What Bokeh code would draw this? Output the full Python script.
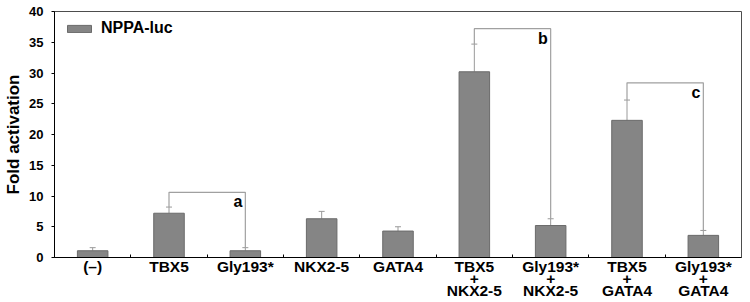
from bokeh.plotting import figure
from bokeh.models import (Range1d, FixedTicker, Whisker, TeeHead, ColumnDataSource,
                          Legend, LegendItem)
from bokeh.core.properties import value
from bokeh.embed import file_html
from bokeh.resources import INLINE

# ---- data ----
categories = ["(\u2013)", "TBX5", "Gly193*", "NKX2-5", "GATA4",
              "TBX5\n+\nNKX2-5", "Gly193*\n+\nNKX2-5",
              "TBX5\n+\nGATA4", "Gly193*\n+\nGATA4"]
fold_activation = [1.1, 7.2, 1.1, 6.3, 4.3, 30.2, 5.2, 22.3, 3.6]
error_up = [0.5, 1.0, 0.5, 1.2, 0.7, 4.5, 1.1, 3.3, 0.8]
y_ticks = [0, 5, 10, 15, 20, 25, 30, 35, 40]
bracket_pairs = [(1, 2), (5, 6), (7, 8)]
bracket_heights = [10.6, 37.2, 28.4]
bracket_letters = ["a", "b", "c"]
series_name = "NPPA-luc"

FONT = "Liberation Sans"
n = len(categories)
xs = [i + 0.5 for i in range(n)]
tops = [v + e for v, e in zip(fold_activation, error_up)]

p = figure(width=750, height=302, output_backend="svg", toolbar_location=None,
           x_range=Range1d(0, n), y_range=Range1d(0, 40),
           min_border_left=54, min_border_right=9, min_border_top=11,
           min_border_bottom=45)
p.background_fill_color = "white"
p.border_fill_color = "white"
p.outline_line_color = "#4d4d4d"
p.outline_line_width = 1
p.xgrid.visible = False
p.ygrid.visible = False

src = ColumnDataSource(dict(x=xs, top=fold_activation, upper=tops))
bars = p.vbar(x="x", top="top", width=0.4, source=src,
              fill_color="#858585", line_color="#6b6b6b", line_width=1)

w = Whisker(base="x", lower="top", upper="upper", source=src,
            line_color="#9a9a9a", line_width=1,
            upper_head=TeeHead(size=6, line_color="#9a9a9a", line_width=1),
            lower_head=None)
p.add_layout(w)

# brackets
bxs, bys, lx, ly = [], [], [], []
for (a, b), h in zip(bracket_pairs, bracket_heights):
    bxs.append([xs[a], xs[a], xs[b], xs[b]])
    bys.append([tops[a], h, h, tops[b]])
    lx.append(xs[b])
    ly.append(h)
p.multi_line(xs=bxs, ys=bys, line_color="#a0a0a0", line_width=1.2)
p.text(x=lx, y=ly, text=bracket_letters, text_align="right", text_baseline="top",
       x_offset=-3, y_offset=1, text_font=value(FONT), text_font_style="bold",
       text_font_size="16px", text_color="black")

# axes
xa = p.xaxis[0]
xa.ticker = FixedTicker(ticks=xs, minor_ticks=[i for i in range(1, n)])
xa.major_label_overrides = {x: c for x, c in zip(xs, categories)}
xa.major_tick_line_color = None
xa.minor_tick_in = 3
xa.minor_tick_out = 0
xa.minor_tick_line_color = "black"
xa.axis_line_color = "black"
xa.major_label_text_font = FONT
xa.major_label_text_font_style = "bold"
xa.major_label_text_font_size = "15.5px"
xa.major_label_text_line_height = 0.73
xa.major_label_standoff = -6
xa.major_label_text_color = "black"

ya = p.yaxis[0]
ya.ticker = FixedTicker(ticks=y_ticks)
ya.major_tick_in = 0
ya.major_tick_out = 3
ya.minor_tick_line_color = None
ya.axis_line_color = "black"
ya.major_tick_line_color = "black"
ya.major_label_text_font = FONT
ya.major_label_text_font_style = "bold"
ya.major_label_text_font_size = "13px"
ya.major_label_standoff = 8
ya.major_label_text_color = "black"
ya.axis_label = "Fold activation"
ya.axis_label_text_font = FONT
ya.axis_label_text_font_style = "bold"
ya.axis_label_text_font_size = "17px"
ya.axis_label_standoff = 3
ya.axis_label_text_color = "black"

legend = Legend(items=[LegendItem(label=series_name, renderers=[bars])],
                location=(10, 219), glyph_width=30, glyph_height=9,
                label_height=20, label_standoff=7, padding=0, margin=0,
                border_line_color=None, background_fill_alpha=0,
                label_text_font=FONT, label_text_font_style="bold",
                label_text_font_size="16px", label_text_color="black")
p.add_layout(legend)

open("out.html", "w").write(file_html(p, INLINE))
